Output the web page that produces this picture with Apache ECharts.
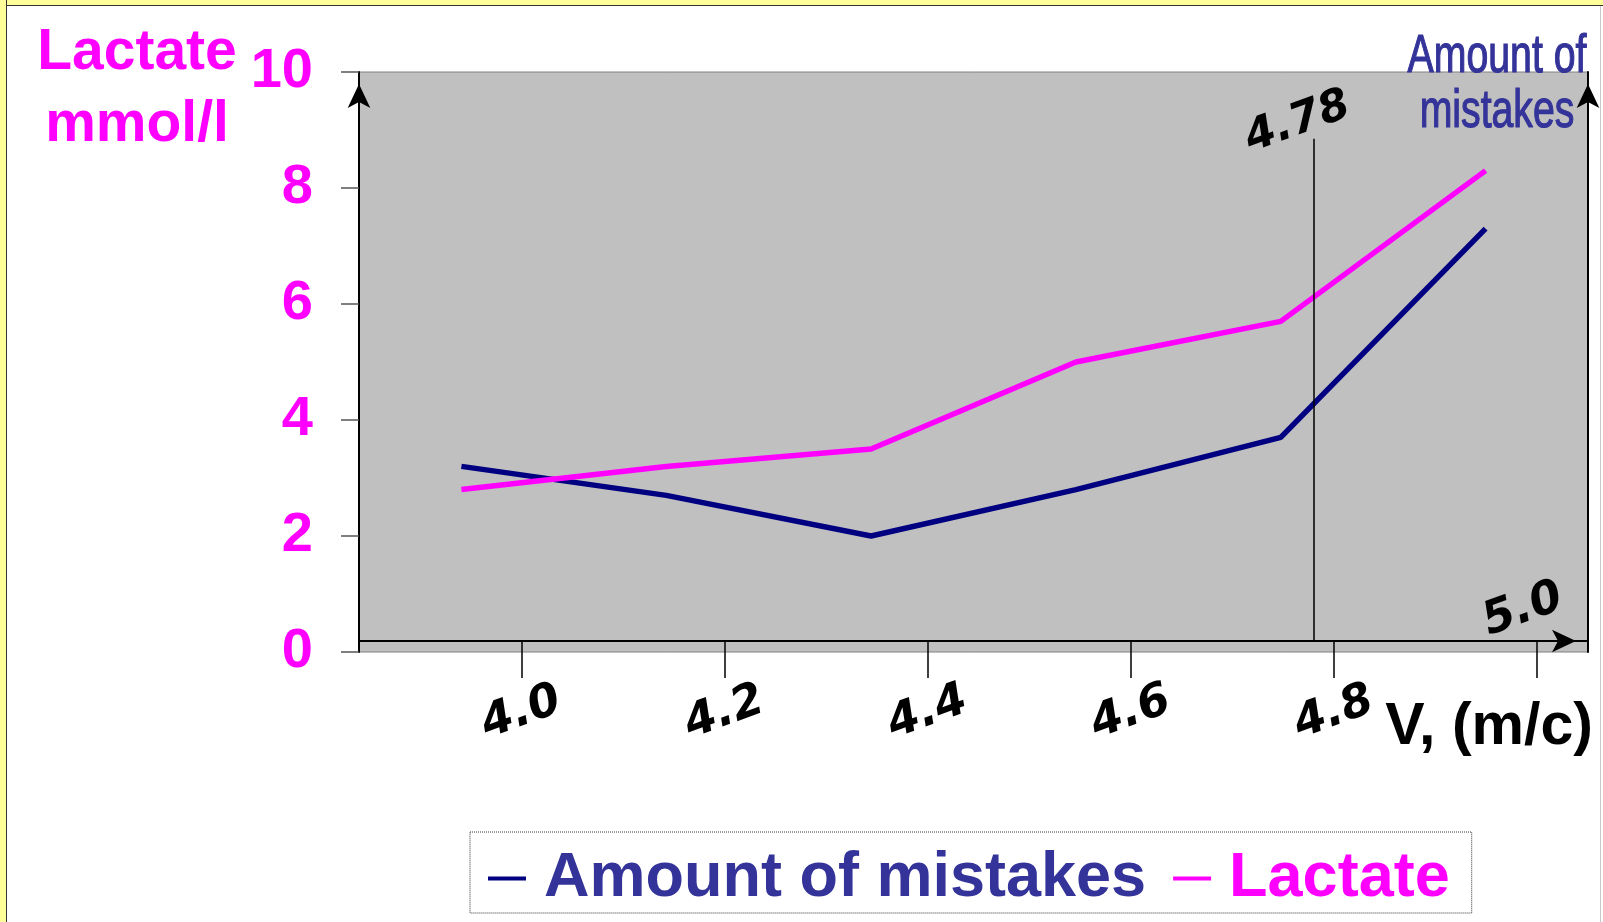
<!DOCTYPE html>
<html>
<head>
<meta charset="utf-8">
<script src="https://cdn.jsdelivr.net/npm/echarts@6/dist/echarts.min.js"></script>
<style>
  html, body { margin: 0; padding: 0; background: #fff; }
  #chart { position: absolute; left: 0; top: 0; width: 1603px; height: 922px; }
  .band { position: absolute; background: #ffff99; pointer-events: none; }
</style>
</head>
<body>
<div id="chart"></div>
<div class="band" style="left:0;top:0;width:1603px;height:5px;border-bottom:1.5px solid #333"></div>
<div class="band" style="left:0;top:0;width:6px;height:922px;border-right:1.5px solid #333"></div>
<div class="band" style="left:1600px;top:6px;width:1px;height:916px;background:#c8c8c8"></div>
<script>
// speed stages of the test (category positions, labels not shown)
const stages = ['3.97', '4.15', '4.33', '4.53', '4.73', '4.97']
const lactate = [2.8, 3.2, 3.5, 5.0, 5.7, 8.3]
const mistakes = [3.2, 2.7, 2.0, 2.8, 3.7, 7.3]
const speedTicks = [4.0, 4.2, 4.4, 4.6, 4.8, 5.0]
const threshold = 4.78

const FONT = '"Liberation Sans", Arial, sans-serif'
const HAND = '"DejaVu Sans", sans-serif'

const chart = echarts.init(document.getElementById('chart'))

const arrowLine = {
  show: true, lineStyle: { color: '#000', width: 2 },
  symbol: ['none', 'arrow'], symbolSize: [17, 24], symbolOffset: [0, -12]
}

const option = {
  animation: false,
  grid: {
    left: 359, top: 72, width: 1229, height: 580,
    show: true, backgroundColor: '#c0c0c0', borderColor: '#808080', borderWidth: 1
  },
  legend: {
    left: 470, top: 832,
    padding: [15, 22, 3, 18],
    itemGap: 27,
    itemWidth: 38, itemHeight: 4,
    icon: 'rect',
    borderColor: '#333', borderWidth: 1, borderType: 'dotted',
    textStyle: { fontSize: 63, fontWeight: 'bold', fontFamily: FONT, padding: [0, 0, 0, 13] },
    data: [
      { name: 'Amount of mistakes', textStyle: { color: '#333399' } },
      { name: 'Lactate', textStyle: { color: '#ff00ff' } }
    ]
  },
  xAxis: [
    { type: 'category', data: stages, boundaryGap: true, show: false },
    {
      type: 'value', min: 3.84, max: 5.05, position: 'bottom', offset: -11,
      splitLine: { show: false },
      axisLine: arrowLine,
      axisTick: { show: true, customValues: speedTicks, length: 37, lineStyle: { color: '#000', width: 1.5 } },
      axisLabel: {
        customValues: speedTicks.slice(0, 5),
        formatter: v => v.toFixed(1),
        rotate: 20, align: 'center', verticalAlign: 'middle', margin: 72,
        color: '#000', fontSize: 46, fontStyle: 'italic', fontWeight: 'bold', fontFamily: HAND
      }
    }
  ],
  yAxis: [
    {
      type: 'value', min: 0, max: 10, interval: 2,
      splitLine: { show: false },
      axisLine: arrowLine,
      axisTick: { show: true, length: 18, lineStyle: { color: '#555', width: 1.5 } },
      axisLabel: { margin: 46, color: '#ff00ff', fontSize: 56, fontWeight: 'bold', fontFamily: FONT }
    },
    {
      type: 'value', min: 0, max: 10, position: 'right',
      splitLine: { show: false },
      axisLine: arrowLine,
      axisTick: { show: false },
      axisLabel: { show: false }
    }
  ],
  series: [
    {
      name: 'Amount of mistakes', type: 'line', yAxisIndex: 1,
      data: mistakes, symbol: 'none', color: '#000080',
      lineStyle: { width: 5.5, color: '#000080' }
    },
    {
      name: 'Lactate', type: 'line', yAxisIndex: 0,
      data: lactate, symbol: 'none', color: '#ff00ff',
      lineStyle: { width: 5.5, color: '#ff00ff' }
    },
    {
      name: 'threshold', type: 'line', xAxisIndex: 1, yAxisIndex: 0,
      data: [], symbol: 'none',
      markLine: {
        silent: true, symbol: 'none', label: { show: false },
        lineStyle: { color: '#000', width: 1.5, type: 'solid' },
        data: [[{ coord: [threshold, 0.2] }, { coord: [threshold, 8.85] }]]
      }
    }
  ]
}

chart.setOption(option)

// annotations placed through the axes' own scales
const px = v => chart.convertToPixel({ xAxisIndex: 1 }, v)
const py = v => chart.convertToPixel({ yAxisIndex: 0 }, v)
const rot = 20 * Math.PI / 180
const narrow = { fill: '#333399', stroke: '#333399', lineWidth: 1.2, font: '53px ' + FONT, align: 'center', verticalAlign: 'middle' }

chart.setOption({
  graphic: [
    {
      type: 'text', z: 100, x: 137, y: 53,
      style: { text: 'Lactate', fill: '#ff00ff', font: 'bold 57px ' + FONT, align: 'center', verticalAlign: 'middle' }
    },
    {
      type: 'text', z: 100, x: 137, y: 125,
      style: { text: 'mmol/l', fill: '#ff00ff', font: 'bold 57px ' + FONT, align: 'center', verticalAlign: 'middle' }
    },
    { type: 'text', z: 100, x: 1497, y: 57, scaleX: 0.74, style: Object.assign({ text: 'Amount of' }, narrow) },
    { type: 'text', z: 100, x: 1497, y: 112, scaleX: 0.74, style: Object.assign({ text: 'mistakes' }, narrow) },
    {
      type: 'text', z: 100, x: px(threshold) - 16, y: py(8.85) - 16, rotation: rot,
      style: { text: threshold.toFixed(2), fill: '#000', font: 'italic bold 44px ' + HAND, align: 'center', verticalAlign: 'middle' }
    },
    {
      type: 'text', z: 100, x: px(5.0) - 14, y: py(0) - 42, rotation: rot,
      style: { text: (5.0).toFixed(1), fill: '#000', font: 'italic bold 46px ' + HAND, align: 'center', verticalAlign: 'middle' }
    },
    {
      type: 'text', z: 100, x: 1489, y: 728,
      style: { text: 'V, (m/c)', fill: '#000', font: 'bold 59px ' + FONT, align: 'center', verticalAlign: 'middle' }
    }
  ]
})

window.addEventListener('resize', () => chart.resize())
</script>
</body>
</html>
